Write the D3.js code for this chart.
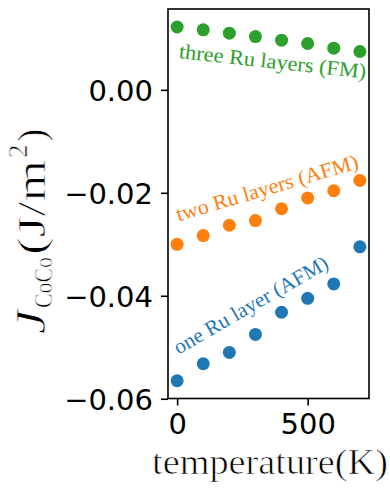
<!DOCTYPE html>
<html>
<head>
<meta charset="utf-8">
<script src="https://cdn.jsdelivr.net/npm/d3@7"></script>
<style>
  html, body { margin: 0; padding: 0; background: #fff; }
  svg { display: block; }
</style>
</head>
<body>
<script>
// ---- data ----
const temperature = [0, 100, 200, 300, 400, 500, 600, 700];
const oneRu   = [-0.0565, -0.0532, -0.0510, -0.0475, -0.0432, -0.0405, -0.0377, -0.0305];
const twoRu   = [-0.0300, -0.0283, -0.0263, -0.0254, -0.0231, -0.0210, -0.0196, -0.0176];
const threeRu = [0.0122, 0.01165, 0.0110, 0.01035, 0.00965, 0.0090, 0.0081, 0.00745];
const seriesNames = ["one Ru layer (AFM)", "two Ru layers (AFM)", "three Ru layers (FM)"];
const seriesColors = ["#1f77b4", "#ff7f0e", "#2ca02c"];
const xTicks = [0, 500];
const yTicks = [0, -0.02, -0.04, -0.06];
// annotation anchors (data units) and rotation angles
const labelX = [5, 5, 5];
const labelY = [-0.05146, -0.02557, 0.00616];
const labelAngle = [-30, -16.5, 6.2];
const labelLength = [175, 189, 188];
const xLabel = "temperature(K)";

(function () {
const W = 390, H = 489;
const mLeft = 168, mRight = 369, mTop = 9, mBottom = 398.5;

const svg = d3.select("body").append("svg").attr("width", W).attr("height", H);

const x = d3.scaleLinear().domain([-35, 735]).range([mLeft, mRight]);
const y = d3.scaleLinear().domain([-0.05995, 0.0157]).range([mBottom, mTop]);

// axes
const tickFont = "'DejaVu Sans', sans-serif";
const yAxis = d3.axisLeft(y).tickValues(yTicks).tickFormat(d3.format(".2f")).tickSize(7).tickPadding(8);
const gy = svg.append("g").attr("transform", `translate(${mLeft},0)`).call(yAxis);
gy.select(".domain").remove();
gy.selectAll(".tick line").attr("stroke", "#000").attr("stroke-width", 1.6);
gy.selectAll(".tick text").attr("font-family", tickFont).attr("font-size", 29).attr("fill", "#000").attr("dy", "0.365em");

const xAxis = d3.axisBottom(x).tickValues(xTicks).tickFormat(d3.format("d")).tickSize(7).tickPadding(8);
const gx = svg.append("g").attr("transform", `translate(0,${mBottom})`).call(xAxis);
gx.select(".domain").remove();
gx.selectAll(".tick line").attr("stroke", "#000").attr("stroke-width", 1.6);
gx.selectAll(".tick text").attr("font-family", tickFont).attr("font-size", 29).attr("fill", "#000");

// frame
svg.append("rect").attr("x", mLeft).attr("y", mTop).attr("width", mRight - mLeft).attr("height", mBottom - mTop)
  .attr("fill", "none").attr("stroke", "#000").attr("stroke-width", 1.6);

// points
const allSeries = [oneRu, twoRu, threeRu];
allSeries.forEach((vals, i) => {
  svg.append("g").selectAll("circle").data(vals).join("circle")
    .attr("cx", (d, j) => x(temperature[j]))
    .attr("cy", d => y(d))
    .attr("r", 6.5)
    .attr("fill", seriesColors[i]);
});

// annotations
const serif = "'Liberation Serif', 'Times New Roman', serif";
seriesNames.forEach((name, i) => {
  svg.append("text")
    .attr("transform", `translate(${x(labelX[i])},${y(labelY[i])}) rotate(${labelAngle[i]})`)
    .attr("font-family", serif).attr("font-size", 21)
    .attr("fill", seriesColors[i])
    .attr("textLength", labelLength[i]).attr("lengthAdjust", "spacingAndGlyphs")
    .text(name);
});

// x label
svg.append("text")
  .attr("x", 152).attr("y", 474)
  .attr("font-family", serif).attr("font-size", 35).attr("fill", "#000")
  .attr("stroke", "#fff").attr("stroke-width", 0.7)
  .attr("textLength", 236).attr("lengthAdjust", "spacingAndGlyphs")
  .text(xLabel);

// y label: J_CoCo (J/m^2), rotated
const gl = svg.append("g").attr("transform", "translate(45,337) rotate(-90)")
  .attr("font-family", serif).attr("fill", "#000").attr("stroke", "#fff").attr("stroke-width", 0.7);
gl.append("text").attr("x", 3).attr("y", 0).attr("font-size", 42).attr("font-style", "italic")
  .attr("textLength", 24).attr("lengthAdjust", "spacingAndGlyphs").text("J");
gl.append("text").attr("x", 29).attr("y", 7).attr("font-size", 25)
  .attr("textLength", 51).attr("lengthAdjust", "spacingAndGlyphs").text("CoCo");
gl.append("text").attr("x", 82).attr("y", 0).attr("font-size", 40)
  .attr("textLength", 95).attr("lengthAdjust", "spacingAndGlyphs").text("(J/m");
gl.append("text").attr("x", 179).attr("y", -18).attr("font-size", 27).text("2");
gl.append("text").attr("x", 195).attr("y", 0).attr("font-size", 40).text(")");
})();
</script>
</body>
</html>
